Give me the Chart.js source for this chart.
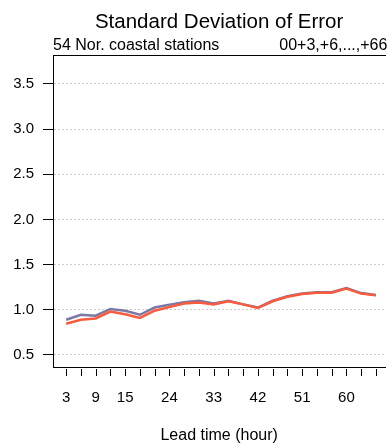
<!DOCTYPE html>
<html>
<head>
<meta charset="utf-8">
<script src="https://cdn.jsdelivr.net/npm/chart.js@4/dist/chart.umd.min.js"></script>
<style>
  html, body { margin: 0; padding: 0; background: #fff; overflow: hidden; }
  #wrap { width: 388px; height: 445px; }
</style>
</head>
<body>
<div id="wrap"><canvas id="c" width="388" height="445"></canvas></div>
<script>
// ---- data ----
const leadTimes = [3, 6, 9, 12, 15, 18, 21, 24, 27, 30, 33, 36, 39, 42, 45, 48, 51, 54, 57, 60, 63, 66];
const xTickLabels = [3, 9, 15, 24, 33, 42, 51, 60];
const yTickValues = [0.5, 1.0, 1.5, 2.0, 2.5, 3.0, 3.5];
const seriesBlue = [0.89, 0.945, 0.935, 1.01, 0.99, 0.945, 1.025, 1.055, 1.085, 1.10, 1.07, 1.10, 1.06, 1.025, 1.10, 1.15, 1.18, 1.195, 1.195, 1.24, 1.185, 1.165];
const seriesRed  = [0.845, 0.89, 0.905, 0.98, 0.95, 0.91, 0.99, 1.03, 1.07, 1.08, 1.06, 1.095, 1.06, 1.02, 1.095, 1.145, 1.175, 1.19, 1.19, 1.235, 1.18, 1.16];
const titleText = 'Standard Deviation of Error';
const subLeft = '54 Nor. coastal stations';
const subRight = '00+3,+6,...,+66';
const xTitle = 'Lead time (hour)';

const FONT = "'Liberation Sans', Arial, Helvetica, sans-serif";
Chart.defaults.font.family = FONT;
Chart.defaults.color = '#000';

const toPoints = arr => leadTimes.map((t, i) => ({ x: t, y: arr[i] }));

const textPlugin = {
  id: 'texts',
  afterDraw(chart) {
    const { ctx, chartArea } = chart;
    ctx.save();
    ctx.fillStyle = '#000';
    ctx.textBaseline = 'alphabetic';
    ctx.font = '20.5px ' + FONT;
    ctx.textAlign = 'center';
    ctx.fillText(titleText, (chartArea.left + chartArea.right) / 2, 28);
    ctx.font = '16px ' + FONT;
    ctx.textAlign = 'left';
    ctx.fillText(subLeft, chartArea.left, 49.5);
    ctx.fillText(subRight, 279.3, 49.5);
    // x-axis tick marks (offset below the box, as in the reference)
    const xs = chart.scales.x;
    ctx.strokeStyle = '#000';
    ctx.lineWidth = 1;
    ctx.beginPath();
    xs.ticks.forEach(t => {
      const px = Math.round(xs.getPixelForValue(t.value)) + 0.5;
      ctx.moveTo(px, chartArea.bottom + 2);
      ctx.lineTo(px, chartArea.bottom + 9);
    });
    ctx.stroke();
    ctx.restore();
  }
};

new Chart(document.getElementById('c'), {
  type: 'line',
  data: {
    datasets: [
      { data: toPoints(seriesBlue), borderColor: '#7b79a3', borderWidth: 2.5, pointRadius: 0, tension: 0, fill: false, order: 1 },
      { data: toPoints(seriesRed),  borderColor: '#fa5a3e', borderWidth: 2.5, pointRadius: 0, tension: 0, fill: false, order: 0 }
    ]
  },
  options: {
    responsive: false,
    animation: false,
    devicePixelRatio: 1,
    layout: { padding: { top: 55, right: 0, left: 0, bottom: 0 } },
    plugins: { legend: { display: false }, tooltip: { enabled: false }, title: { display: false } },
    scales: {
      x: {
        type: 'linear',
        position: 'bottom',
        min: 0.33,
        max: 67.9,
        afterBuildTicks: s => { s.ticks = leadTimes.map(v => ({ value: v })); },
        afterFit: s => { s.height = 78; },
        ticks: {
          autoSkip: false, maxRotation: 0, minRotation: 0, padding: 12,
          font: { size: 15 },
          callback: v => xTickLabels.includes(v) ? String(v) : ''
        },
        grid: { display: true, drawOnChartArea: false, drawTicks: true, tickLength: 10, tickColor: 'rgba(0,0,0,0)' },
        border: { display: true, color: '#000', width: 1 },
        title: { display: true, text: xTitle, font: { size: 16 }, padding: { top: 0, bottom: 0 } }
      },
      xTop: {
        type: 'linear',
        position: 'top',
        min: 0.33,
        max: 67.9,
        afterFit: s => { s.height = 0; },
        ticks: { display: false },
        grid: { display: false, drawTicks: false },
        border: { display: true, color: '#000', width: 1 }
      },
      y: {
        type: 'linear',
        position: 'left',
        min: 0.367,
        max: 3.821,
        afterBuildTicks: s => { s.ticks = yTickValues.map(v => ({ value: v })); },
        afterFit: s => { s.width = 53; },
        ticks: { padding: 9, font: { size: 15 }, callback: v => Number(v).toFixed(1) },
        grid: { display: true, drawOnChartArea: true, drawTicks: true, tickLength: 10, color: '#cccccc', lineWidth: 1, tickColor: '#000', tickBorderDash: [] },
        border: { display: true, color: '#000', width: 1, dash: [2, 2] }
      }
    }
  },
  plugins: [textPlugin]
});
</script>
</body>
</html>
